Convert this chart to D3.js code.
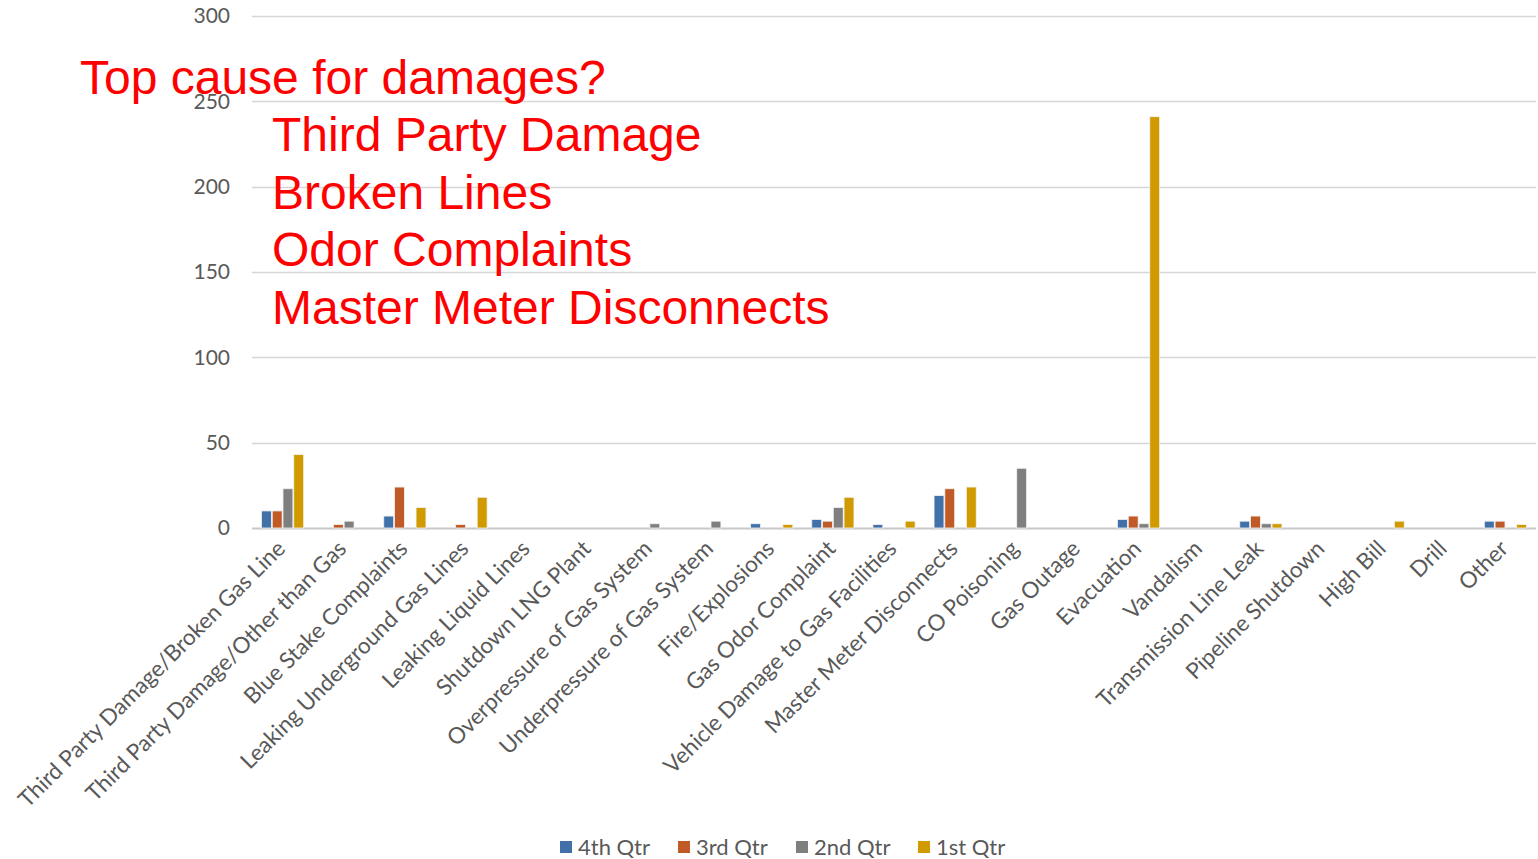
<!DOCTYPE html>
<html>
<head>
<meta charset="utf-8">
<script src="https://cdn.jsdelivr.net/npm/d3@7/dist/d3.min.js"></script>
<style>
  body { margin: 0; background: #fff; }
  svg { display: block; }
</style>
</head>
<body>
<svg id="chart" width="1538" height="859"></svg>
<script>
// categories along the x axis
var categories = [
  'Third Party Damage/Broken Gas Line',
  'Third Party Damage/Other than Gas',
  'Blue Stake Complaints',
  'Leaking Underground Gas Lines',
  'Leaking Liquid Lines',
  'Shutdown LNG Plant',
  'Overpressure of Gas System',
  'Underpressure of Gas System',
  'Fire/Explosions',
  'Gas Odor Complaint',
  'Vehicle Damage to Gas Facilities',
  'Master Meter Disconnects',
  'CO Poisoning',
  'Gas Outage',
  'Evacuation',
  'Vandalism',
  'Transmission Line Leak',
  'Pipeline Shutdown',
  'High Bill',
  'Drill',
  'Other'
];

// one value per category for each quarter
var qtr4 = [10, 0, 7, 0, 0, 0, 0, 0, 2.5, 5, 2, 19, 0, 0, 5, 0, 4, 0, 0, 0, 4];
var qtr3 = [10, 2, 24, 2, 0, 0, 0, 0, 0, 4, 0, 23, 0, 0, 7, 0, 7, 0, 0, 0, 4];
var qtr2 = [23, 4, 0, 0, 0, 0, 2.5, 4, 0, 12, 0, 0, 35, 0, 2.5, 0, 2.5, 0, 0, 0, 0];
var qtr1 = [43, 0, 12, 18, 0, 0, 0, 0, 2, 18, 4, 24, 0, 0, 241, 0, 2.5, 0, 4, 0, 2];

var seriesNames = ['4th Qtr', '3rd Qtr', '2nd Qtr', '1st Qtr'];
var seriesColors = ['#4271a9', '#c05a27', '#7f7f7f', '#d09a00'];
var yTicks = [0, 50, 100, 150, 200, 250, 300];

// red overlay text
var question = 'Top cause for damages?';
var answers = ['Third Party Damage', 'Broken Lines', 'Odor Complaints', 'Master Meter Disconnects'];

var svg = d3.select('#chart');

// plot area (note: "top" is reserved on window, so use prefixed names)
var plotLeft = 252, plotRight = 1536, plotTop = 16, plotBottom = 528;

var x = d3.scaleBand()
  .domain(categories)
  .range([plotLeft, plotRight])
  .paddingInner(0.31)
  .paddingOuter(0.155);

var xs = d3.scaleBand()
  .domain(seriesNames)
  .range([0, x.bandwidth()])
  .paddingInner(0.08);

var y = d3.scaleLinear()
  .domain([0, 300])
  .range([plotBottom, plotTop]);

// gridlines
svg.append('g')
  .selectAll('line')
  .data(yTicks)
  .join('line')
  .attr('x1', plotLeft)
  .attr('x2', plotRight)
  .attr('y1', function(d) { return Math.round(y(d)) + 0.5; })
  .attr('y2', function(d) { return Math.round(y(d)) + 0.5; })
  .style('stroke', function(d) { return d === 0 ? '#c8c8c8' : '#d6d6d6'; })
  .style('stroke-width', function(d) { return d === 0 ? 2 : 1.4; });

// y axis labels
var yAxis = d3.axisLeft(y)
  .tickValues(yTicks)
  .tickSize(0)
  .tickPadding(22);

var gy = svg.append('g')
  .attr('transform', 'translate(' + plotLeft + ',0)')
  .call(yAxis);
gy.select('.domain').remove();
gy.selectAll('text')
  .style('font-family', 'Lato, "Open Sans", sans-serif')
  .style('font-size', '21px')
  .style('fill', '#595959');

// bars: keep the category with each value, drop the empty ones
var series = [qtr4, qtr3, qtr2, qtr1];
series.forEach(function(values, si) {
  var bars = values
    .map(function(v, i) { return { cat: categories[i], value: v }; })
    .filter(function(d) { return d.value > 0; });

  svg.append('g')
    .selectAll('rect')
    .data(bars)
    .join('rect')
    .attr('x', function(d) { return x(d.cat) + xs(seriesNames[si]); })
    .attr('y', function(d) { return y(d.value); })
    .attr('width', xs.bandwidth())
    .attr('height', function(d) { return plotBottom - y(d.value); })
    .style('fill', seriesColors[si])
    .style('stroke', '#f2f2f2')
    .style('stroke-width', 0.8);
});

// rotated category labels
svg.append('g')
  .selectAll('text')
  .data(categories)
  .join('text')
  .attr('transform', function(d) {
    return 'translate(' + (x(d) + x.bandwidth() / 2 + 4) + ',' + (plotBottom + 22) + ') rotate(-45)';
  })
  .attr('text-anchor', 'end')
  .style('font-family', 'Lato, "Open Sans", sans-serif')
  .style('font-size', '22.5px')
  .style('fill', '#595959')
  .text(function(d) { return d; });

// legend
var legend = svg.append('g')
  .selectAll('g')
  .data(seriesNames)
  .join('g')
  .attr('transform', function(d, i) { return 'translate(' + [560, 678, 796, 918][i] + ',841)'; });

legend.append('rect')
  .attr('width', 12)
  .attr('height', 12)
  .style('fill', function(d, i) { return seriesColors[i]; });

legend.append('text')
  .attr('x', 18)
  .attr('y', 14)
  .style('font-family', 'Lato, "Open Sans", sans-serif')
  .style('font-size', '22px')
  .style('fill', '#595959')
  .text(function(d) { return d; });

// overlay question and answers
svg.append('text')
  .attr('x', 80)
  .attr('y', 94)
  .style('font-family', '"Liberation Sans", Arial, sans-serif')
  .style('font-size', '48px')
  .style('fill', '#ff0000')
  .text(question);

svg.append('g')
  .selectAll('text')
  .data(answers)
  .join('text')
  .attr('x', 272)
  .attr('y', function(d, i) { return 151 + i * 57.5; })
  .style('font-family', '"Liberation Sans", Arial, sans-serif')
  .style('font-size', '48px')
  .style('fill', '#ff0000')
  .text(function(d) { return d; });
</script>
</body>
</html>
